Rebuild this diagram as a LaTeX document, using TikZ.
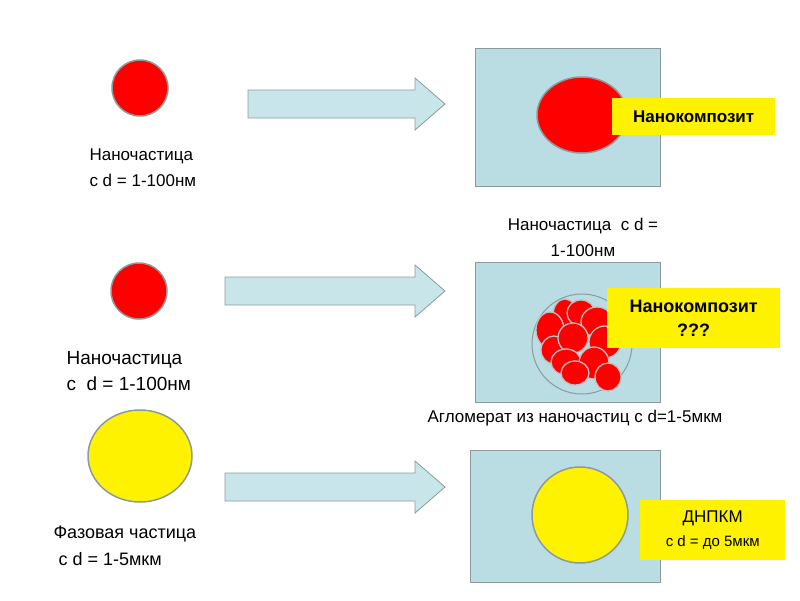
\documentclass[tikz,border=0pt]{standalone}
\usepackage{fontspec}
\setmainfont{Liberation Sans}
\usetikzlibrary{positioning}
\definecolor{matColor}{HTML}{B9DDE3}
\definecolor{arrColor}{HTML}{C8E6EA}
\definecolor{lineColor}{HTML}{8C9A9C}
\tikzset{
	particle/.style={draw=lineColor, line width=1.5pt},
	matrixbox/.style={draw=lineColor, fill=matColor, line width=1pt},
	tag/.style={fill=yellow, inner sep=0, anchor=north west, align=center, font=\bfseries\fontsize{17}{20}\selectfont},
	caption/.style={align=left, anchor=north west, font=\fontsize{17}{26}\selectfont}
}
% block arrow from x #1 to x #2 at height #3
\newcommand{\bigarrow}[3]{\draw[draw=lineColor, fill=arrColor, line width=0.8pt]
	(#1,#3-14) -- (#2-30,#3-14) -- (#2-30,#3-26) -- (#2,#3) -- (#2-30,#3+26) -- (#2-30,#3+14) -- (#1,#3+14) -- cycle;}
\begin{document}
\begin{tikzpicture}[x=1pt, y=-1pt]
				\useasboundingbox (0,0) rectangle (800,600);
				% row 1
				\filldraw[fill=red, particle] (140,88) circle (28);
				\node[caption] (t1) at (86,145) {Наночастица\\с d = 1-100нм};
				\bigarrow{248}{445}{104}
				\draw[matrixbox] (475,48) rectangle (660,186);
				\filldraw[fill=red, particle] (582,115) ellipse (45 and 38);
				\node[tag, minimum width=163, minimum height=37] (n1) at (612,98) {Нанокомпозит};
				\node[align=center, font=\fontsize{17}{26}\selectfont] (t2) at (583,237) {Наночастица \ с d =\\1-100нм};
				% row 2
				\filldraw[fill=red, particle] (139,291) circle (28);
				\node[caption, font=\fontsize{19}{26}\selectfont] (t3) at (63,348) {Наночастица\\с \ d = 1-100нм};
				\bigarrow{225}{445}{291}
				\draw[matrixbox] (475,262) rectangle (660,402);
				\draw[draw=lineColor, fill=matColor, line width=1pt] (582,344) circle (50);
				\foreach \x/\y/\rx/\ry in {565/315/12/16, 581/313/14/13, 550/330/14/18, 597/322/16/15,
					554/350/13/14, 573/338/15/15, 605/342/16/16, 566/362/15/13, 594/363/15/16,
					575/373/14/12, 608/377/13/14}
					\filldraw[fill=red, draw=lineColor!60, line width=1.3pt] (\x,\y) ellipse (\rx pt and \ry pt);
				\node[tag, minimum width=173, minimum height=60, font=\bfseries\fontsize{18}{24}\selectfont] (n2) at (607,288) {Нанокомпозит\\???};
				\node[font=\fontsize{17}{20}\selectfont] (t4) at (575,418) {Агломерат из наночастиц с d=1-5мкм};
				% row 3
				\filldraw[fill=yellow, particle] (140,456) ellipse (52 and 46);
				\node[caption, font=\fontsize{18}{27}\selectfont] (t5) at (50,522) {Фазовая частица\\\ с d = 1-5мкм};
				\bigarrow{225}{445}{487}
				\draw[matrixbox] (470,450) rectangle (660,582);
				\filldraw[fill=yellow, particle] (580,515) circle (48);
				\node[tag, minimum width=145, minimum height=60, font=\fontsize{17}{24}\selectfont] (n3) at (640,500) {ДНПКМ\\{\fontsize{15}{18}\selectfont с d = до 5мкм}};
			\end{tikzpicture}
\end{document}
